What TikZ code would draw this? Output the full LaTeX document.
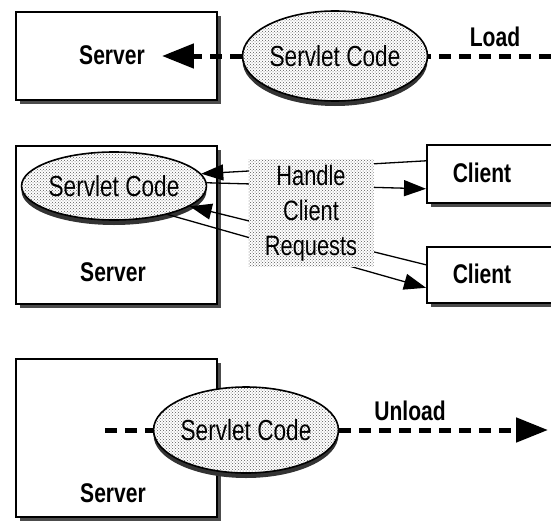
\documentclass[tikz,border=0pt]{standalone}
\usepackage{fontspec}
\setmainfont{Liberation Sans}
\newfontfamily\narrowfont{Liberation Sans}[FakeStretch=0.78]
\usetikzlibrary{arrows.meta,shapes.geometric,shadows,patterns}

\tikzset{
  machine/.style={draw, line width=1.6pt, anchor=north west, inner sep=0pt,
    general shadow={shadow xshift=4pt, shadow yshift=-4pt, fill=black!70},
    fill=white},
  hostlabel/.style={font=\narrowfont\bfseries\fontsize{27}{30}\selectfont, inner sep=1pt},
  speckle/.style={general shadow={shadow yshift=-5pt, fill=black!80},
    preaction={fill=white}, pattern=crosshatch dots, pattern color=black!65},
  codeblob/.style={ellipse, draw, line width=1.6pt, speckle, inner sep=0pt,
    font=\narrowfont\fontsize{29}{32}\selectfont},
  reqbox/.style={preaction={fill=white}, pattern=crosshatch dots, pattern color=black!65,
    inner sep=0pt, align=center, font=\narrowfont\fontsize{28}{35}\selectfont},
  loadline/.style={line width=5pt, dash pattern=on 12pt off 8pt},
  bigtip/.style={-{Triangle[length=32pt,width=24pt]}},
  request/.style={line width=1.3pt},
  smalltip/.style={-{Triangle[length=22pt,width=16pt]}},
}

\begin{document}
\begin{tikzpicture}[x=1pt, y=-1pt]
  \useasboundingbox (0,0) rectangle (551,522);
  \clip (0,0) rectangle (551,522);

  % -- row 1: the code is loaded into the server --------------------------
  \node[machine, minimum width=201pt, minimum height=88pt] (srvA) at (15,11) {};
  \node[hostlabel] (srvAtxt) at (112,55) {Server};
  \node[codeblob, minimum width=170pt, minimum height=90pt] (codeA) at (335,56) {Servlet Code};
  \coordinate (loadIn) at (551,56);
  \node[hostlabel] (loadtxt) at (495,37) {Load};
  \draw[loadline] (loadIn) -- (codeA.east);
  \draw[loadline, bigtip, shorten >=16pt] (codeA.west) -- (srvAtxt.east |- codeA.west);

  % -- row 2: the code answers the clients --------------------------------
  \node[machine, minimum width=201pt, minimum height=158pt] (srvB) at (15,145) {};
  \node[codeblob, minimum width=168pt, minimum height=68pt] (codeB) at (114,186) {Servlet Code};
  \node[hostlabel] (srvBtxt) at (113,272) {Server};
  \node[machine, minimum width=135pt, minimum height=58pt] (cliA) at (426,144) {};
  \node[machine, minimum width=135pt, minimum height=56pt] (cliB) at (426,246) {};
  \node[hostlabel] (cliAtxt) at (482,173) {Client};
  \node[hostlabel] (cliBtxt) at (482,274) {Client};

  \draw[request, smalltip] ([yshift=13pt]cliA.west) -- (codeB.8);
  \draw[request, smalltip] (codeB.2) -- ([yshift=-15pt]cliA.west);
  \draw[request, smalltip] ([yshift=10pt]cliB.west) -- (codeB.-15);
  \draw[request, smalltip] (codeB.-28) -- ([yshift=-13pt]cliB.west);

  \node[reqbox, minimum width=125pt, minimum height=107pt] (reqs) at (311,213)
    {Handle\\Client\\Requests};

  % -- row 3: the code is unloaded ----------------------------------------
  \node[machine, minimum width=201pt, minimum height=158pt] (srvC) at (15,358) {};
  \node[hostlabel] (srvCtxt) at (113,493) {Server};
  \node[codeblob, minimum width=177pt, minimum height=86pt] (codeC) at (246,430) {Servlet Code};
  \coordinate (unldStart) at (105,430);
  \coordinate (unldEnd) at (548,430);
  \node[hostlabel] (unldtxt) at (410,411) {Unload};
  \draw[loadline] (unldStart) -- (codeC.west);
  \draw[loadline, bigtip] (codeC.east) -- (unldEnd);

\end{tikzpicture}
\end{document}
